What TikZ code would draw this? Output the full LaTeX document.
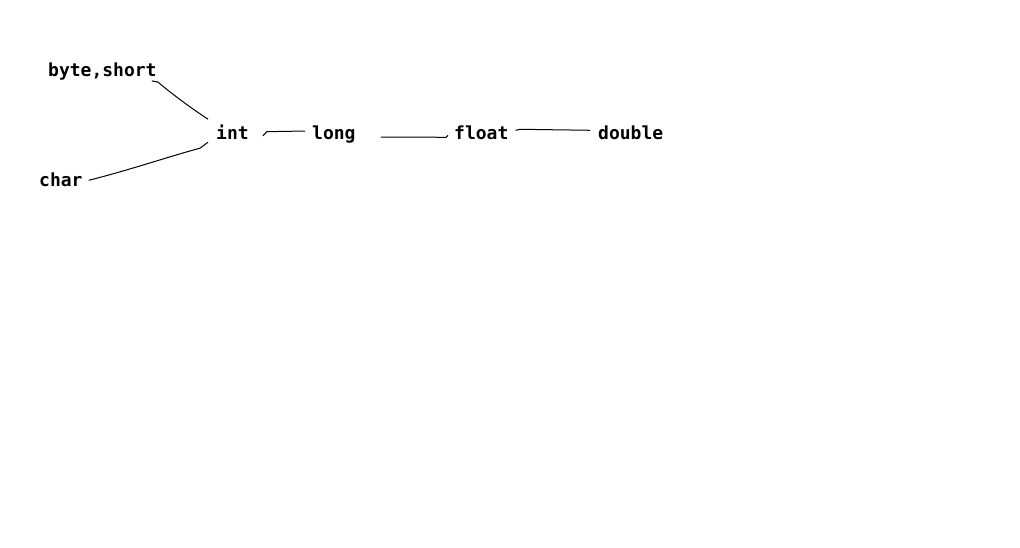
\documentclass[tikz,border=0pt]{standalone}
\usepackage{fontspec}
\setmonofont{DejaVu Sans Mono}
\usepackage{tikz}
\usetikzlibrary{calc}
\tikzset{typ/.style={font=\ttfamily\bfseries\fontsize{18}{20}\selectfont,inner sep=0pt,anchor=base west}}

\begin{document}
\begin{tikzpicture}[x=1pt,y=-1pt]
					\useasboundingbox[fill=white] (0,0) rectangle (1020,548);
					\node[typ] (bs) at (48,77) {byte,short};
					\node[typ] (char) at (39,187) {char};
					\node[typ] (int) at (216,140) {int};
					\node[typ] (long) at (312,140) {long};
					\node[typ] (float) at (454,140) {float};
					\node[typ] (double) at (598,140) {double};
					\draw[line width=1pt] ($(bs.south east)+(-5,0)$) -- ++(6,1) .. controls +(14,12) and +(-14,-9) .. ($(int.north west)+(-8,-6)$);
					\draw[line width=1pt] ($(char.east)+(6,0)$) .. controls +(40,-10) and +(-30,8) .. ($(int.south west)+(-16,8)$) -- ($(int.south west)+(-8,2)$);
					\draw[line width=1pt] ($(int.east)+(14,3)$) -- ++(4,-4) -- ($(long.west)+(-7,-4)$);
					\draw[line width=1pt] ($(long.east)+(25,2)$) -- ($(float.west)+(-8,4)$) -- ($(float.west)+(-6,2)$);
					\draw[line width=1pt] ($(float.east)+(7,-3)$) -- ++(5,-1) -- ($(double.west)+(-8,-3)$);
				\end{tikzpicture}
\end{document}
